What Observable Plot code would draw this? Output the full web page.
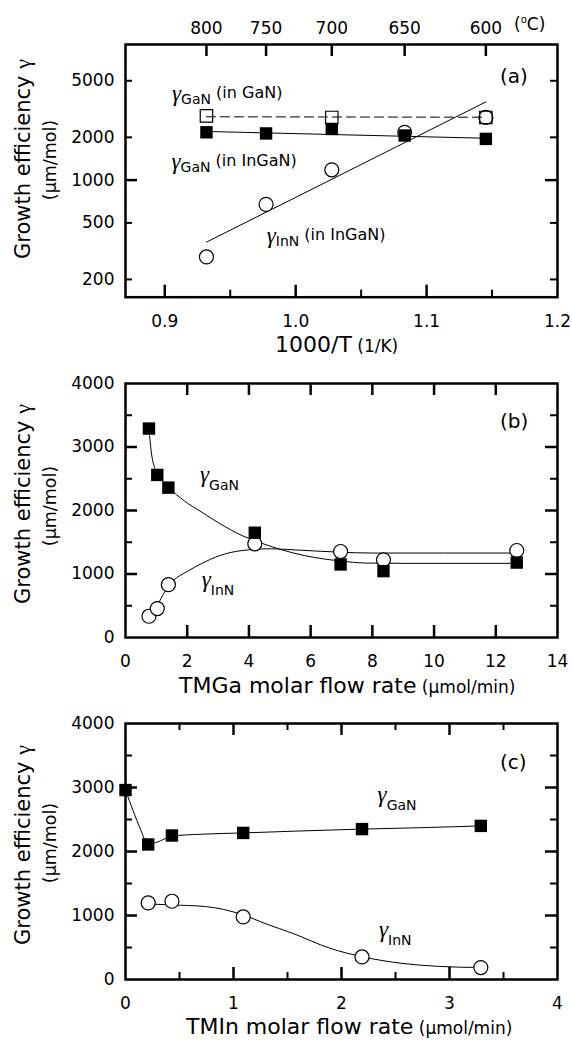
<!DOCTYPE html>
<html><head><meta charset="utf-8">
<script src="https://cdn.jsdelivr.net/npm/d3@7"></script>
<script src="https://cdn.jsdelivr.net/npm/@observablehq/plot@0.6"></script>
<style>
body{margin:0;background:#fff;}
#chart{width:572px;background:#fff;}
#chart svg{display:block;}
</style></head><body><div id="chart"></div>
<script>
// ---------- Panel (a): growth efficiency vs 1000/T ----------
const aTempTicks = [800, 750, 700, 650, 600];           // top axis (°C)
const aXLabels = [0.9, 1.0, 1.1, 1.2];
const aXMajor = [0.9, 1.0, 1.1];
const aXMinor = [0.95, 1.05, 1.15];
const aYLabels = [200, 500, 1000, 2000, 5000];
const aYMajor = [1000];
const aYMinor = [200, 500, 2000, 5000];
const aTemps = [800, 750, 700, 650, 600];
const aGaNinInGaN = [2170, 2130, 2290, 2060, 1950];      // filled squares
const aInNinInGaN = [288, 675, 1181, 2170, 2760];        // open circles
const aGaNinGaNTemps = [800, 700, 600];
const aGaNinGaN = [2830, 2760, 2760];                     // open squares
const aFitTemps = [800, 600];
const aFitInN = [366, 3550];
const aFitGaNinInGaN = [2200, 1970];
const aFitGaNinGaN = [2790, 2770];

// ---------- Panel (b): vs TMGa flow ----------
const bXLabels = [0, 2, 4, 6, 8, 10, 12, 14];
const bXMajor = [2, 4, 6, 8, 10, 12];
const bYLabels = [0, 1000, 2000, 3000, 4000];
const bYMajor = [1000, 2000, 3000];
const bYMinor = [500, 1500, 2500, 3500];
const bTMGa = [0.76, 1.03, 1.39, 4.19, 6.97, 8.36, 12.68];
const bGaN = [3290, 2560, 2360, 1650, 1150, 1045, 1180];
const bInN = [335, 456, 832, 1475, 1354, 1224, 1370];
const bGaNCurveX = [0.76, 0.80, 0.86, 0.94, 1.03, 1.2, 1.39, 1.91, 2.45, 3.07, 3.78, 4.19, 5.0, 5.8, 6.97, 7.8, 9.0, 12.68];
const bGaNCurveY = [3290, 3080, 2840, 2680, 2580, 2460, 2365, 2150, 1980, 1790, 1605, 1525, 1390, 1290, 1205, 1172, 1168, 1168];
const bInNCurveX = [0.74, 0.88, 1.0, 1.2, 1.39, 1.56, 2.0, 2.45, 3.07, 3.78, 4.72, 5.43, 6.97, 8.0, 12.68];
const bInNCurveY = [335, 400, 480, 660, 810, 900, 1040, 1161, 1292, 1370, 1397, 1381, 1343, 1330, 1330];

// ---------- Panel (c): vs TMIn flow ----------
const cXLabels = [0, 1, 2, 3, 4];
const cXMajor = [1, 2, 3];
const cXMinor = [0.5, 1.5, 2.5, 3.5];
const cYLabels = [0, 1000, 2000, 3000, 4000];
const cYMajor = [1000, 2000, 3000];
const cYMinor = [500, 1500, 2500, 3500];
const cTMInGaN = [0, 0.21, 0.43, 1.09, 2.19, 3.29];
const cGaN = [2960, 2110, 2250, 2290, 2350, 2400];
const cTMInInN = [0.21, 0.43, 1.09, 2.19, 3.29];
const cInN = [1197, 1223, 978, 353, 187];
const cGaNCurveX = [0, 0.07, 0.14, 0.21, 0.3, 0.43, 0.7, 1.09, 1.6, 2.19, 2.8, 3.29];
const cGaNCurveY = [2960, 2640, 2340, 2110, 2150, 2240, 2270, 2290, 2320, 2350, 2375, 2400];
const cInNCurveX = [0.21, 0.43, 0.74, 1.08, 1.3, 1.55, 1.89, 2.18, 2.57, 2.9, 3.29];
const cInNCurveY = [1180, 1165, 1140, 1015, 870, 720, 490, 360, 250, 205, 187];

const FONT = "'DejaVu Sans', 'Liberation Sans', Arial, sans-serif";
const SERIF = "'Liberation Serif', 'Times New Roman', serif";
const TICK = 17;
const invT = t => 1000 / (t + 273.15);
const zip = (xs, ys) => xs.map((x, i) => ({x, y: ys[i]}));

function frameTicks(fh, fw, xMajor, xMinor, yMajor, yMinor, opts = {}) {
  const M = 12, m = 7;
  const marks = [];
  const xTop = opts.xTop === undefined ? true : opts.xTop;
  marks.push(Plot.tickX(xMajor, {x: d => d, insetTop: fh - M, stroke: "black", strokeWidth: 2.5}));
  if (xTop) marks.push(Plot.tickX(xMajor, {x: d => d, insetBottom: fh - M, stroke: "black", strokeWidth: 2.5}));
  if (xMinor.length) {
    marks.push(Plot.tickX(xMinor, {x: d => d, insetTop: fh - m, stroke: "black", strokeWidth: 2}));
    if (xTop) marks.push(Plot.tickX(xMinor, {x: d => d, insetBottom: fh - m, stroke: "black", strokeWidth: 2}));
  }
  marks.push(Plot.tickY(yMajor, {y: d => d, insetRight: fw - M, stroke: "black", strokeWidth: 2.5}));
  marks.push(Plot.tickY(yMajor, {y: d => d, insetLeft: fw - M, stroke: "black", strokeWidth: 2.5}));
  marks.push(Plot.tickY(yMinor, {y: d => d, insetRight: fw - m, stroke: "black", strokeWidth: 2}));
  marks.push(Plot.tickY(yMinor, {y: d => d, insetLeft: fw - m, stroke: "black", strokeWidth: 2}));
  return marks;
}

function xLabels(vals, fmt, dy) {
  return Plot.text(vals, {x: d => d, text: fmt, frameAnchor: "bottom", lineAnchor: "bottom", dy, fontSize: TICK, fill: "black"});
}
function yLabels(vals, fmt) {
  return Plot.text(vals, {y: d => d, text: fmt, frameAnchor: "left", textAnchor: "end", lineAnchor: "middle", dx: -11, fontSize: TICK, fill: "black"});
}

function rich(svg, x, y, parts, opts = {}) {
  const t = d3.select(svg).append("text")
    .attr("fill", "black").attr("font-family", FONT)
    .attr("text-anchor", opts.anchor || "start");
  if (opts.transform) t.attr("transform", opts.transform); else t.attr("x", x).attr("y", y);
  let prev = 0;
  for (const p of parts) {
    const s = t.append("tspan").text(p.t).attr("font-size", p.size);
    if (p.family) s.attr("font-family", p.family);
    if (p.italic) s.attr("font-style", "italic");
    const b = p.b || 0;
    if (b !== prev) s.attr("dy", b - prev);
    prev = b;
  }
  return t;
}
const gam = (sub, rest) => {
  const parts = [{t: "γ", size: 23, family: SERIF, italic: true}, {t: sub, size: 14, b: rest ? 3 : 8}];
  if (rest) parts.push({t: rest, size: 16, b: -3});
  return parts;
};

const style = {fontFamily: FONT, fontSize: "17px", color: "black", background: "white", overflow: "visible"};
const W = 572, ML = 125, MR = 15, FW = W - ML - MR;
const chart = document.getElementById("chart");

// ---------- (a) ----------
{
  const H = 362, MT = 44, MB = 65.3, FH = H - MT - MB;
  const filled = aTemps.map((t, i) => ({x: invT(t), y: aGaNinInGaN[i]}));
  const circ = aTemps.map((t, i) => ({x: invT(t), y: aInNinInGaN[i]}));
  const open = aGaNinGaNTemps.map((t, i) => ({x: invT(t), y: aGaNinGaN[i]}));
  const fitInN = aFitTemps.map((t, i) => ({x: invT(t), y: aFitInN[i]}));
  const fitG = aFitTemps.map((t, i) => ({x: invT(t), y: aFitGaNinInGaN[i]}));
  const fitG2 = aFitTemps.map((t, i) => ({x: invT(t), y: aFitGaNinGaN[i]}));
  const svg = Plot.plot({
    width: W, height: H, marginTop: MT, marginBottom: MB, marginLeft: ML, marginRight: MR,
    style,
    x: {type: "linear", domain: [0.87, 1.2], axis: null},
    y: {type: "log", domain: [150, 9000], axis: null},
    marks: [
      xLabels(aXLabels, d => d.toFixed(1), 30),
      Plot.text(aTempTicks, {x: invT, text: d => String(d), frameAnchor: "top", lineAnchor: "bottom", dy: -10.7, fontSize: TICK, fill: "black"}),
      yLabels(aYLabels, d => String(d)),
      Plot.tickX(aTempTicks.map(invT), {x: d => d, insetBottom: FH - 12, stroke: "black", strokeWidth: 2.5}),
      ...frameTicks(FH, FW, aXMajor, aXMinor, aYMajor, aYMinor, {xTop: false}),
      Plot.line(fitInN, {x: "x", y: "y", stroke: "black", strokeWidth: 1}),
      Plot.line(fitG, {x: "x", y: "y", stroke: "black", strokeWidth: 1}),
      Plot.dot(circ, {x: "x", y: "y", r: 7, fill: "white", stroke: "black", strokeWidth: 1.2}),
      Plot.line(fitG2, {x: "x", y: "y", stroke: "black", strokeWidth: 1, strokeDasharray: "9,5"}),
      Plot.dot(open, {x: "x", y: "y", symbol: "square", r: 7, fill: "none", stroke: "black", strokeWidth: 1.2}),
      Plot.dot(filled, {x: "x", y: "y", symbol: "square", r: 7, fill: "black", stroke: "none"}),
      Plot.frame({stroke: "black", strokeWidth: 2.5})
    ]
  });
  chart.appendChild(svg);
  rich(svg, 0, 0, [{t: "Growth efficiency ", size: 21}, {t: "γ", size: 22, family: SERIF}], {transform: "translate(30,159) rotate(-90)", anchor: "middle"});
  rich(svg, 0, 0, [{t: "(μm/mol)", size: 17.5}], {transform: "translate(56,160) rotate(-90)", anchor: "middle"});
  rich(svg, 275, 351.7, [{t: "1000/T", size: 22}, {t: " (1/K)", size: 17}]);
  rich(svg, 514, 30, [{t: "(", size: 17}, {t: "o", size: 10, b: -7}, {t: "C)", size: 17, b: 0}]);
  rich(svg, 500, 83, [{t: "(a)", size: 20}]);
  rich(svg, 172, 101, gam("GaN", " (in GaN)"));
  rich(svg, 171.5, 169, gam("GaN", " (in InGaN)"));
  rich(svg, 266.7, 242.5, gam("InN", " (in InGaN)"));
}

// ---------- (b) ----------
{
  const H = 340, MT = 21, MB = 65, FH = H - MT - MB;
  const svg = Plot.plot({
    width: W, height: H, marginTop: MT, marginBottom: MB, marginLeft: ML, marginRight: MR,
    style,
    x: {type: "linear", domain: [0, 14], axis: null},
    y: {type: "linear", domain: [0, 4000], axis: null},
    marks: [
      xLabels(bXLabels, d => String(d), 29),
      yLabels(bYLabels, d => String(d)),
      ...frameTicks(FH, FW, bXMajor, [], bYMajor, bYMinor),
      Plot.line(zip(bGaNCurveX, bGaNCurveY), {x: "x", y: "y", curve: "monotone-x", stroke: "black", strokeWidth: 1}),
      Plot.line(zip(bInNCurveX, bInNCurveY), {x: "x", y: "y", curve: "monotone-x", stroke: "black", strokeWidth: 1}),
      Plot.dot(zip(bTMGa, bInN), {x: "x", y: "y", r: 7, fill: "white", stroke: "black", strokeWidth: 1.2}),
      Plot.dot(zip(bTMGa, bGaN), {x: "x", y: "y", symbol: "square", r: 7, fill: "black", stroke: "none"}),
      Plot.frame({stroke: "black", strokeWidth: 2.5})
    ]
  });
  chart.appendChild(svg);
  rich(svg, 0, 0, [{t: "Growth efficiency ", size: 21}, {t: "γ", size: 22, family: SERIF}], {transform: "translate(30,142) rotate(-90)", anchor: "middle"});
  rich(svg, 0, 0, [{t: "(μm/mol)", size: 17.5}], {transform: "translate(56,144) rotate(-90)", anchor: "middle"});
  rich(svg, 179, 331, [{t: "TMGa molar flow rate", size: 22}, {t: " (μmol/min)", size: 17}]);
  rich(svg, 500, 66, [{t: "(b)", size: 20}]);
  rich(svg, 200, 120, gam("GaN"));
  rich(svg, 201.7, 225, gam("InN"));
}

// ---------- (c) ----------
{
  const H = 339, MT = 21, MB = 62, FH = H - MT - MB;
  const svg = Plot.plot({
    width: W, height: H, marginTop: MT, marginBottom: MB, marginLeft: ML, marginRight: MR,
    style,
    x: {type: "linear", domain: [0, 4], axis: null},
    y: {type: "linear", domain: [0, 4000], axis: null},
    marks: [
      xLabels(cXLabels, d => String(d), 29),
      yLabels(cYLabels, d => String(d)),
      ...frameTicks(FH, FW, cXMajor, cXMinor, cYMajor, cYMinor),
      Plot.line(zip(cGaNCurveX, cGaNCurveY), {x: "x", y: "y", curve: "monotone-x", stroke: "black", strokeWidth: 1}),
      Plot.line(zip(cInNCurveX, cInNCurveY), {x: "x", y: "y", curve: "monotone-x", stroke: "black", strokeWidth: 1}),
      Plot.dot(zip(cTMInInN, cInN), {x: "x", y: "y", r: 7, fill: "white", stroke: "black", strokeWidth: 1.2}),
      Plot.dot(zip(cTMInGaN, cGaN), {x: "x", y: "y", symbol: "square", r: 7, fill: "black", stroke: "none"}),
      Plot.frame({stroke: "black", strokeWidth: 2.5})
    ]
  });
  chart.appendChild(svg);
  rich(svg, 0, 0, [{t: "Growth efficiency ", size: 21}, {t: "γ", size: 22, family: SERIF}], {transform: "translate(30,143) rotate(-90)", anchor: "middle"});
  rich(svg, 0, 0, [{t: "(μm/mol)", size: 17.5}], {transform: "translate(56,141) rotate(-90)", anchor: "middle"});
  rich(svg, 186, 332, [{t: "TMIn molar flow rate", size: 22}, {t: " (μmol/min)", size: 17}]);
  rich(svg, 500, 67, [{t: "(c)", size: 20}]);
  rich(svg, 377.6, 100, gam("GaN"));
  rich(svg, 379, 235, gam("InN"));
}
</script>
</body></html>
